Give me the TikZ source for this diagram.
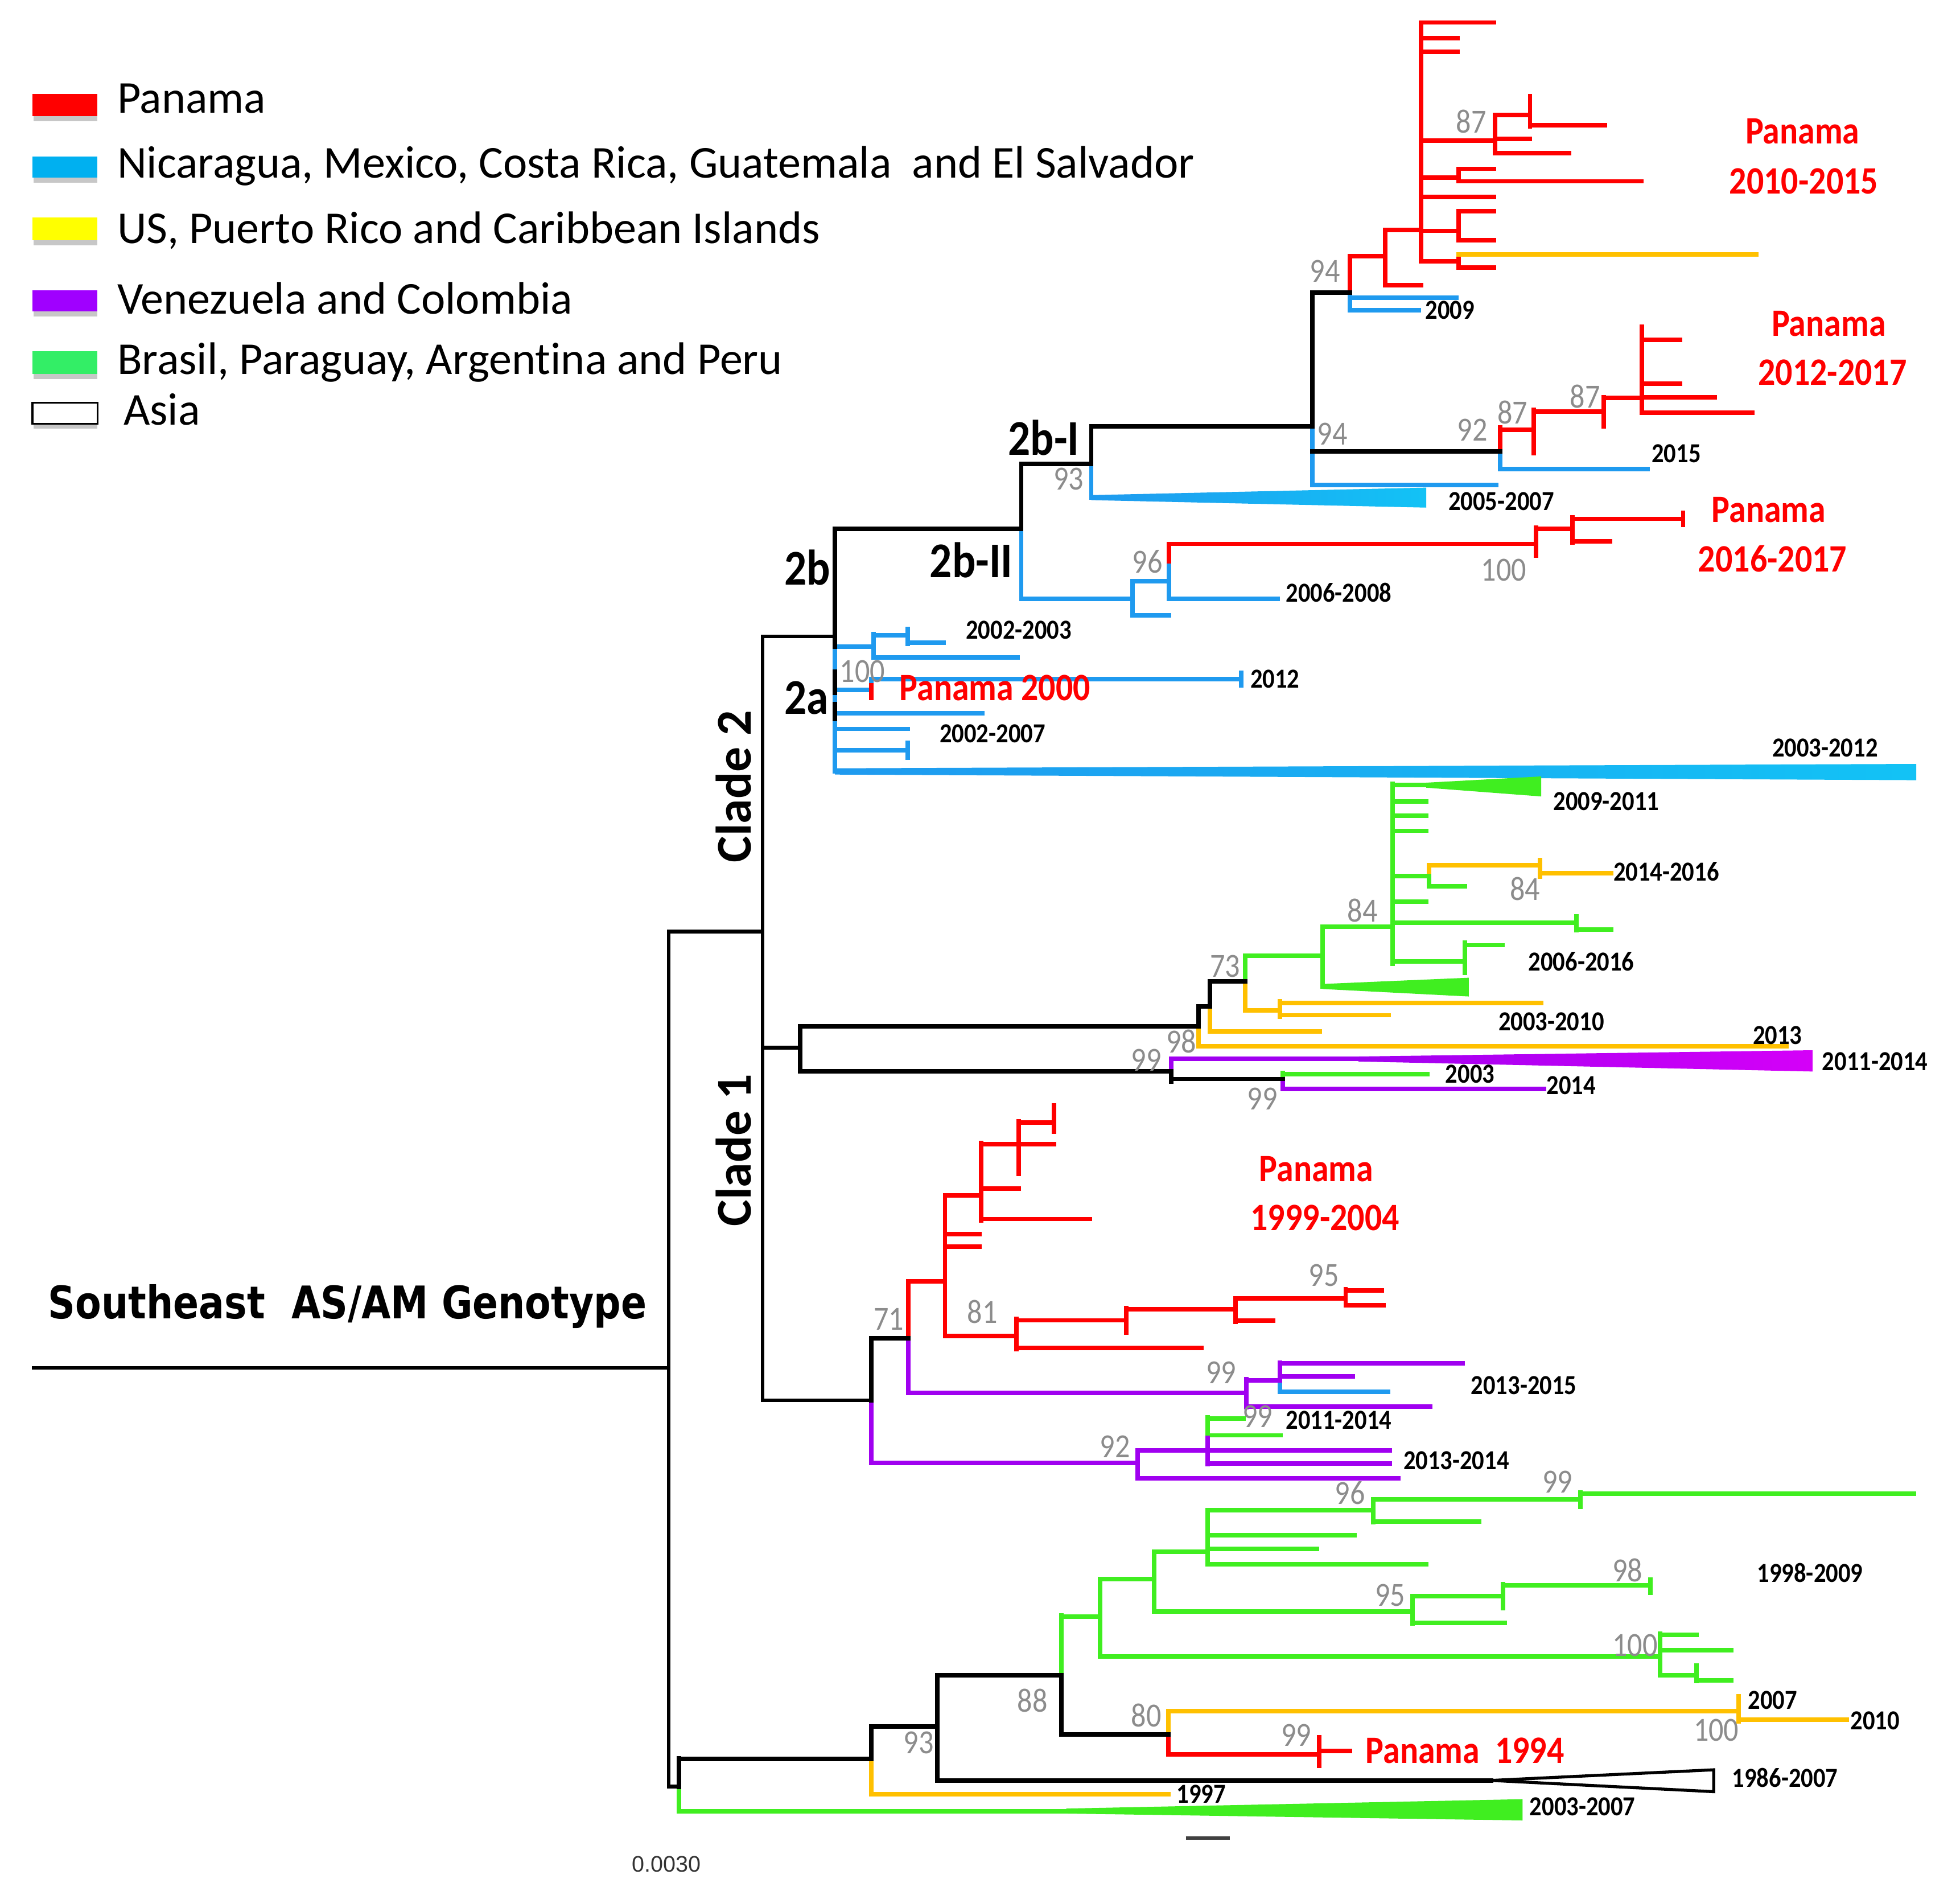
\documentclass[tikz,border=0pt]{standalone}
\usepackage{fontspec}
\newfontfamily\calr[Ligatures=NoCommon]{Carlito}
\newfontfamily\calc[FakeStretch=0.88,Ligatures=NoCommon]{Carlito}
\newfontfamily\dvs[FakeStretch=0.84]{DejaVu Sans}
\newfontfamily\libs{Liberation Sans}
\definecolor{cR}{HTML}{FF0000}
\definecolor{cB}{HTML}{1F9AEF}
\definecolor{cY}{HTML}{FFC000}
\definecolor{cP}{HTML}{A000F0}
\definecolor{cG}{HTML}{40EE20}
\definecolor{cGr}{HTML}{8C8C8C}
\definecolor{sB}{HTML}{00B0F0}
\definecolor{sY}{HTML}{FFFF00}
\definecolor{sP}{HTML}{A000FF}
\definecolor{sG}{HTML}{33EE66}
\tikzset{
 gl/.style={text=cGr, font=\calc\fontsize{27}{29}\selectfont, inner sep=0pt},
 dl/.style={text=black, font=\calc\bfseries\fontsize{22}{24}\selectfont, inner sep=0pt},
 pl/.style={text=cR, font=\calc\bfseries\fontsize{31}{33}\selectfont, inner sep=0pt},
 bl/.style={text=black, font=\calc\bfseries\fontsize{40}{42}\selectfont, inner sep=0pt},
 cladelab/.style={text=black, font=\calr\bfseries\fontsize{40}{42}\selectfont, inner sep=0pt, rotate=90},
 lg/.style={font=\calr\fontsize{36.5}{40}\selectfont, inner sep=0pt, anchor=base west},
 rootln/.style={line width=3pt},
 shad/.style={fill=black!22},
}
\begin{document}
\begin{tikzpicture}[x=1pt,y=-1pt,line width=3.6pt,line cap=rect]
\fill[white] (0,0) rectangle (1568,1512);
\useasboundingbox (0,0) rectangle (1568,1512);

% ---------- legend ----------
\fill[shad] (27,93) rectangle (78,97);
\fill[cR] (26,75) rectangle (78,93);
\fill[shad] (27,142) rectangle (78,146);
\fill[sB] (26,125) rectangle (78,142);
\fill[shad] (27,192) rectangle (78,196);
\fill[sY] (26,174) rectangle (78,192);
\fill[shad] (27,249) rectangle (78,253);
\fill[sP] (26,232) rectangle (78,249);
\fill[shad] (27,299) rectangle (78,303);
\fill[sG] (26,281) rectangle (78,299);
\fill[shad] (27,339) rectangle (78,343);
\draw[line width=1.5pt,fill=white,line cap=butt] (26,322) rectangle (78,339);
\node[lg] (l1) at (92,90.6) {Panama};
\node[lg] (l2) at (92,142.3) {Nicaragua, Mexico, Costa Rica, Guatemala~~and El Salvador};
\node[lg] (l3) at (92,194.6) {US, Puerto Rico and Caribbean Islands};
\node[lg] (l4) at (92,251) {Venezuela and Colombia};
\node[lg] (l5) at (92,299.3) {Brasil, Paraguay, Argentina and Peru};
\node[lg] (l6) at (97,339.8) {Asia};

% ---------- root ----------
\draw[rootln] (27,1094)--(535,1094) (535,745)--(535,1429) (535,745)--(610,745)
 (610,509)--(610,1120) (610,509)--(668,509) (610,838)--(640,838) (610,1120)--(697,1120)
 (535,1429)--(543,1429);

% ---------- blue ----------
\draw[cB] (668,517)--(668,617) (817,423)--(817,479) (873,371)--(873,398)
 (1050,341)--(1050,388) (1080,234)--(1080,248) (1080,238)--(1165,238) (1080,248)--(1135,248)
 (1050,388)--(1197,388) (1200,361)--(1200,375) (1200,375)--(1318,375)
 (817,479)--(906,479) (906,465)--(906,492) (906,465)--(935,465) (906,492)--(935,492)
 (935,449)--(935,479) (935,479)--(1022,479)
 (668,517)--(699,517) (699,507)--(699,526) (699,508)--(726,508) (699,526)--(814,526)
 (726,503)--(726,515) (726,514)--(755,514)
 (668,552)--(697,552) (697,543)--(697,552) (697,543)--(993,543) (993,538)--(993,548)
 (668,570.4)--(786,570.4) (668,583)--(726,583) (668,600)--(726,600) (726,594)--(726,606)
 (1024,1104)--(1024,1113) (1024,1113)--(1110.6,1113);
\shade[left color=cB,right color=cB!60!cyan] (873,396)--(1141,390)--(1141,406)--(873,400)--cycle;
\shade[left color=cB,right color=cB!60!cyan] (668,614.5)--(1533,611)--(1533,624)--(668,619.5)--cycle;

% ---------- red ----------
\draw[cR] (1080,205)--(1080,234) (1080,205)--(1108,205) (1108,184)--(1108,228) (1108,228)--(1137,228)
 (1108,184)--(1137,184) (1137,18)--(1137,209) (1137,18)--(1195,18) (1137,30.6)--(1166,30.6)
 (1137,41.4)--(1166,41.4) (1137,112.5)--(1196,112.5) (1137,142)--(1167,142) (1137,157.5)--(1195,157.5)
 (1137,184.6)--(1167,184.6) (1137,209)--(1167,209) (1196,92)--(1196,122.4) (1196,92)--(1224,92)
 (1196,111)--(1224,111) (1196,122.4)--(1255,122.4) (1224,77)--(1224,101) (1224,100)--(1284,100)
 (1167,135)--(1167,145) (1167,135)--(1195,135) (1167,145)--(1313,145) (1167,169)--(1167,192)
 (1167,169)--(1195,169) (1167,192)--(1195,192) (1167,203.5)--(1167,214) (1167,214)--(1195,214)
 (1200,342)--(1200,361) (1200,343.6)--(1227,343.6) (1227,328)--(1227,362.5) (1227,329)--(1283,329)
 (1283,317.6)--(1283,341) (1283,318.4)--(1313.5,318.4) (1313.5,261.5)--(1313.5,330)
 (1313.5,272)--(1344,272) (1313.5,307)--(1344,307) (1313.5,317.6)--(1371.6,317.6) (1313.5,330)--(1402,330)
 (935,435)--(935,449) (935,435)--(1229,435) (1229,422)--(1229,444.5) (1229,423)--(1258,423)
 (1258,414)--(1258,434) (1258,415)--(1346.5,415) (1346.5,410)--(1346.5,420) (1258,433)--(1288,433)
 (697,548)--(697,558)
 (726.5,1025)--(726.5,1070.5) (726.5,1025)--(756,1025) (756,956)--(756,1068.5) (756,956)--(785,956)
 (756,987)--(783.5,987) (756,997)--(783.5,997) (756,1068.5)--(813,1068.5) (785,914)--(785,976)
 (785,915)--(843,915) (785,950.6)--(815,950.6) (785,975)--(872,975) (815,897)--(815,939)
 (815,897.7)--(843,897.7) (843,884)--(843,905) (813,1055)--(813,1079) (813,1056)--(901,1056)
 (813,1078)--(961,1078) (901,1046)--(901,1066) (901,1047)--(988.6,1047) (988.6,1038.6)--(988.6,1057)
 (988.6,1038.6)--(1076.5,1038.6) (988.6,1056.3)--(1018.7,1056.3) (1076.5,1031)--(1076.5,1044)
 (1076.5,1032)--(1105.6,1032) (1076.5,1044)--(1107,1044)
 (934.5,1385)--(934.5,1403.4) (934.5,1403)--(1055.2,1403) (1055.2,1389.6)--(1055.2,1412.4)
 (1055.2,1400.3)--(1080,1400.3);

% ---------- yellow ----------
\draw[cY] (1167,203.5)--(1405,203.5) (959,821)--(959,837) (968,805)--(968,825) (968,825)--(1056,825)
 (959,837)--(1429,837) (996,785)--(996,808) (996,808)--(1024,808) (1024,801)--(1024,813)
 (1024,802)--(1233,802) (1024,812)--(1111,812) (1143,692)--(1143,700.5) (1143,692)--(1232,692)
 (1232,688)--(1232,701) (1232,698.5)--(1289,698.5) (697,1407)--(697,1435) (697,1435)--(934.5,1435)
 (934.5,1368.7)--(934.5,1385) (934.5,1368.7)--(1391,1368.7) (1391,1356.6)--(1391,1377)
 (1391,1375.5)--(1477.5,1375.5);

% ---------- green ----------
\draw[cG] (996,764.5)--(996,785) (996,764.5)--(1058,764.5) (1058,741)--(1058,789) (1058,741)--(1114,741)
 (1114,627)--(1114,771) (1114,628)--(1141,628) (1114,641)--(1141,641) (1114,652.6)--(1141,652.6)
 (1114,664.5)--(1141,664.5) (1114,700.5)--(1143,700.5) (1143,700.5)--(1143,709) (1143,708.7)--(1172,708.7)
 (1114,721)--(1141,721) (1114,738)--(1261,738) (1261,733)--(1261,744) (1261,743.5)--(1289,743.5)
 (1114,769)--(1172,769) (1172,754)--(1172,778) (1172,756)--(1202,756)
 (1026,858)--(1026,863) (1026,859)--(1142,859)
 (966,1133.6)--(966,1150) (966,1134.5)--(995,1134.5) (966,1148)--(1024.4,1148)
 (543,1429)--(543,1448.6) (543,1448.6)--(853,1448.6) (849,1292)--(849,1340) (849,1293)--(880,1293)
 (880,1263)--(880,1325) (880,1263)--(923.5,1263) (880,1325)--(1328,1325) (923.5,1241)--(923.5,1289)
 (923.5,1241)--(966,1241) (923.5,1289)--(1130,1289) (966,1207.7)--(966,1251) (966,1207.7)--(1098.4,1207.7)
 (966,1228)--(1083.6,1228) (966,1238.7)--(1053.5,1238.7) (966,1251)--(1141,1251)
 (1098.4,1199)--(1098.4,1217.3) (1098.4,1199)--(1264.3,1199) (1098.4,1217)--(1183.5,1217)
 (1264.3,1193.7)--(1264.3,1205) (1264.3,1194.6)--(1531,1194.6) (1130,1276.6)--(1130,1298.3)
 (1130,1276.6)--(1202.4,1276.6) (1130,1298)--(1203.8,1298) (1202.4,1267)--(1202.4,1286)
 (1202.4,1268)--(1320.3,1268) (1320.3,1263.5)--(1320.3,1274) (1328,1306.7)--(1328,1340)
 (1328,1307.5)--(1357,1307.5) (1328,1320)--(1385,1320) (1328,1340)--(1357,1340)
 (1357,1332)--(1357,1344.5) (1357,1344)--(1385,1344);
\fill[cG] (1141,626)--(1233,621)--(1233,637)--(1141,630)--cycle;
\fill[cG] (1058,787)--(1175,782)--(1175,797)--(1058,791)--cycle;
\fill[cG] (853,1446.5)--(1218,1439)--(1218,1456)--(853,1450.5)--cycle;

% ---------- purple ----------
\draw[cP] (937,847)--(937,857) (937,847)--(1090,847) (1026,863)--(1026,871) (1026,871)--(1235,871)
 (697,1120)--(697,1170) (697,1170)--(910,1170) (726.5,1070.5)--(726.5,1114) (726.5,1114)--(997,1114)
 (997,1103)--(997,1125.4) (997,1104)--(1024,1104) (997,1125)--(1144,1125) (1024,1090)--(1024,1104)
 (1024,1090.5)--(1170,1090.5) (1024,1101)--(1082,1101) (910,1160)--(910,1182.5)
 (910,1160.2)--(966,1160.2) (910,1182.5)--(1118.6,1182.5) (966,1150)--(966,1171)
 (966,1160)--(1111.8,1160) (966,1170.5)--(1111.8,1170.5);
\shade[left color=cP,right color=cP!45!magenta] (1087,845)--(1450,840)--(1450,857)--(1087,849)--cycle;

% ---------- black ----------
\draw (668,425)--(668,517) (668,537)--(668,554) (668,563)--(668,575) (668,423)--(817,423)
 (817,371)--(817,423) (817,371)--(873,371) (873,341)--(873,371) (873,341)--(1050,341)
 (1050,234)--(1050,341) (1050,234)--(1080,234) (1050,361)--(1200,361)
 (640,821)--(640,857) (640,821)--(959,821) (640,857)--(937,857) (959,805)--(959,821)
 (959,805)--(968,805) (968,785)--(968,805) (968,785)--(996,785) (937,857)--(937,865)
 (937,863)--(1026,863) (697,1070.5)--(697,1120) (697,1070.5)--(726.5,1070.5)
 (543,1406.4)--(543,1429) (543,1407)--(697,1407) (697,1381)--(697,1407) (697,1381)--(750,1381)
 (750,1340)--(750,1424) (750,1340)--(849,1340) (750,1424)--(1193,1424) (849,1340)--(849,1387.4)
 (849,1387.4)--(934.5,1387.4);
\draw[line width=2.4pt,fill=white,line join=miter] (1193,1424)--(1371,1415.5)--(1371,1433)--cycle;
\draw[line width=2.5pt,black!75,line cap=butt] (948.6,1470)--(984,1470);

% ---------- bootstrap values ----------
\node[gl] (g1) at (1060,217) {94};
\node[gl] (g2) at (1177,97) {87};
\node[gl] (g3) at (1066,347) {94};
\node[gl] (g4) at (855,383) {93};
\node[gl] (g5) at (1178,344) {92};
\node[gl] (g6) at (1210,330) {87};
\node[gl] (g7) at (1268,317) {87};
\node[gl] (g8) at (918,449) {96};
\node[gl] (g9) at (1203,456) {100};
\node[gl] (g10) at (690,537) {100};
\node[gl] (g11) at (1220,711) {84};
\node[gl] (g12) at (1090,728) {84};
\node[gl] (g13) at (980,773) {73};
\node[gl] (g14) at (945,833) {98};
\node[gl] (g15) at (917,848) {99};
\node[gl] (g16) at (1010,879) {99};
\node[gl] (g17) at (711,1055) {71};
\node[gl] (g18) at (786,1049) {81};
\node[gl] (g19) at (1059,1020) {95};
\node[gl] (g20) at (977,1098) {99};
\node[gl] (g21) at (1006,1133) {99};
\node[gl] (g22) at (892,1157) {92};
\node[gl] (g23) at (1080,1194) {96};
\node[gl] (g24) at (1246,1185) {99};
\node[gl] (g25) at (1302,1256) {98};
\node[gl] (g26) at (1112,1276) {95};
\node[gl] (g27) at (1308,1316) {100};
\node[gl] (g28) at (826,1360) {88};
\node[gl] (g29) at (917,1372) {80};
\node[gl] (g30) at (735,1394) {93};
\node[gl] (g31) at (1037,1388) {99};
\node[gl] (g32) at (1373,1384) {100};

% ---------- date labels ----------
\node[dl] (d1) at (1160,248) {2009};
\node[dl] (d2) at (1341,363) {2015};
\node[dl] (d3) at (1201,401) {2005-2007};
\node[dl] (d4) at (1071,474) {2006-2008};
\node[dl] (d5) at (815,504) {2002-2003};
\node[dl] (d6) at (1020,543) {2012};
\node[dl] (d7) at (794,587) {2002-2007};
\node[dl] (d8) at (1460,598) {2003-2012};
\node[dl] (d9) at (1285,641) {2009-2011};
\node[dl] (d10) at (1333,697) {2014-2016};
\node[dl] (d11) at (1265,769) {2006-2016};
\node[dl] (d12) at (1241,817) {2003-2010};
\node[dl] (d13) at (1422,828) {2013};
\node[dl] (d14) at (1500,849) {2011-2014};
\node[dl] (d15) at (1176,859) {2003};
\node[dl] (d16) at (1257,868) {2014};
\node[dl] (d17) at (1219,1108) {2013-2015};
\node[dl] (d18) at (1071,1136) {2011-2014};
\node[dl] (d19) at (1165,1168) {2013-2014};
\node[dl] (d20) at (1448,1258) {1998-2009};
\node[dl] (d21) at (1418,1360) {2007};
\node[dl] (d22) at (1500,1376) {2010};
\node[dl] (d23) at (1428,1422) {1986-2007};
\node[dl] (d24) at (961,1435) {1997};
\node[dl] (d25) at (1266,1445) {2003-2007};

% ---------- Panama labels ----------
\node[pl] (p1a) at (1442,105) {Panama};
\node[pl] (p1b) at (1443,145) {2010-2015};
\node[pl] (p2a) at (1463,259) {Panama};
\node[pl] (p2b) at (1466,298) {2012-2017};
\node[pl] (p3a) at (1415,408) {Panama};
\node[pl] (p3b) at (1418,447) {2016-2017};
\node[pl] (p4) at (796,550) {Panama 2000};
\node[pl] (p5a) at (1053,935) {Panama};
\node[pl] (p5b) at (1060,974) {1999-2004};
\node[pl] (p6) at (1172,1400) {Panama~~1994};

% ---------- clade labels ----------
\node[bl] (k1) at (835,350) {2b-I};
\node[bl] (k2) at (777,448) {2b-II};
\node[bl] (k3) at (646,454) {2b};
\node[bl] (k4) at (645,558) {2a};
\node[cladelab] (k5) at (587,629) {Clade 2};
\node[cladelab] (k6) at (587,920) {Clade 1};
\node[inner sep=0pt,font=\dvs\bfseries\fontsize{36}{40}\selectfont] (sa) at (278,1045) {Southeast~~AS/AM Genotype};
\node[inner sep=0pt,font=\libs\fontsize{18}{20}\selectfont,text=black!80] (sc) at (533,1491) {0.0030};
\end{tikzpicture}
\end{document}
